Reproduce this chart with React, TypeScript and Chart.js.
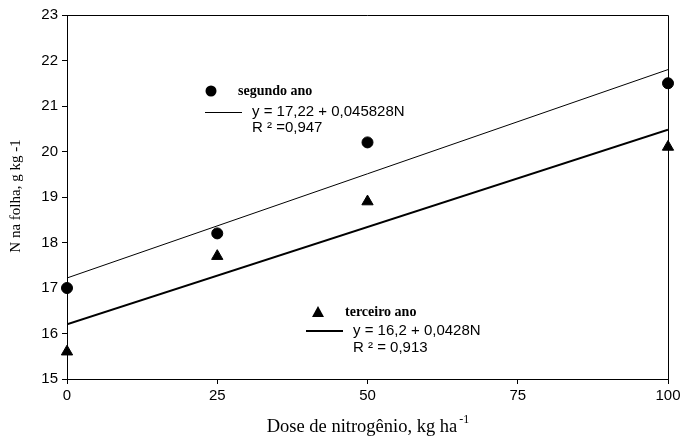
import React, { useEffect, useRef } from "react";
import { Chart, registerables } from "chart.js";

Chart.register(...registerables);

const doses = [0, 25, 50, 100];
const segundoAno = [17.0, 18.2, 20.2, 21.5];
const terceiroAno = [15.6, 17.7, 18.9, 20.1];
const lineX = [0, 100];
const segundoFit = [17.22, 21.80];
const terceiroFit = [16.2, 20.48];
const xTicks = [0, 25, 50, 75, 100];
const yTicks = [15, 16, 17, 18, 19, 20, 21, 22, 23];

const serif = "'Liberation Serif', 'Times New Roman', serif";
const sans = "'Liberation Sans', Arial, sans-serif";

const textPlugin = {
  id: "customText",
  afterDraw(chart: any) {
    const ctx = chart.ctx;
    const a = chart.chartArea;
    ctx.save();
    ctx.strokeStyle = "#000";
    ctx.lineWidth = 1;
    ctx.beginPath();
    ctx.moveTo(a.left, Math.round(a.top) + 0.5);
    ctx.lineTo(Math.round(a.right) + 0.5, Math.round(a.top) + 0.5);
    ctx.lineTo(Math.round(a.right) + 0.5, a.bottom);
    ctx.stroke();

    ctx.fillStyle = "#000";
    // legend 1
    ctx.beginPath();
    ctx.arc(211, 91, 5.5, 0, Math.PI * 2);
    ctx.fill();
    ctx.font = `bold 14px ${serif}`;
    ctx.textBaseline = "middle";
    ctx.textAlign = "left";
    ctx.fillText("segundo ano", 238, 91);
    ctx.lineWidth = 1;
    ctx.beginPath();
    ctx.moveTo(205, 112.5);
    ctx.lineTo(242, 112.5);
    ctx.stroke();
    ctx.font = `15px ${sans}`;
    ctx.fillText("y = 17,22 + 0,045828N", 252, 112);
    ctx.fillText("R ² =0,947", 252, 128);

    // legend 2
    ctx.beginPath();
    ctx.moveTo(318, 306);
    ctx.lineTo(324, 317);
    ctx.lineTo(312, 317);
    ctx.closePath();
    ctx.fill();
    ctx.font = `bold 14px ${serif}`;
    ctx.fillText("terceiro ano", 345, 312);
    ctx.lineWidth = 2;
    ctx.beginPath();
    ctx.moveTo(306, 331);
    ctx.lineTo(343, 331);
    ctx.stroke();
    ctx.font = `15px ${sans}`;
    ctx.fillText("y = 16,2 + 0,0428N", 353, 331);
    ctx.fillText("R ² = 0,913", 353, 348);

    // axis titles
    ctx.font = `15px ${serif}`;
    ctx.textAlign = "center";
    ctx.save();
    ctx.translate(16, 196);
    ctx.rotate(-Math.PI / 2);
    ctx.fillText("N na folha, g kg -1", 0, 0);
    ctx.restore();

    const main = "Dose de nitrogênio, kg ha";
    ctx.font = `18.5px ${serif}`;
    const w = ctx.measureText(main).width;
    ctx.font = `12px ${serif}`;
    const sw = ctx.measureText("-1").width;
    const startX = 368 - (w + sw + 2) / 2;
    ctx.textAlign = "left";
    ctx.textBaseline = "alphabetic";
    ctx.font = `18.5px ${serif}`;
    ctx.fillText(main, startX, 432);
    ctx.font = `12px ${serif}`;
    ctx.fillText("-1", startX + w + 2, 423);
    ctx.restore();
  },
};

export default function App() {
  const ref = useRef<HTMLCanvasElement>(null);
  useEffect(() => {
    document.body.style.margin = "0";
    const chart = new Chart(ref.current!, {
      type: "scatter",
      data: {
        datasets: [
          {
            label: "segundo ano",
            data: doses.map((x, i) => ({ x, y: segundoAno[i] })),
            pointStyle: "circle",
            pointRadius: 5.5,
            backgroundColor: "#000",
            borderColor: "#000",
            clip: false,
          } as any,
          {
            label: "terceiro ano",
            data: doses.map((x, i) => ({ x, y: terceiroAno[i] })),
            pointStyle: "triangle",
            pointRadius: 6.5,
            backgroundColor: "#000",
            borderColor: "#000",
            clip: false,
          } as any,
          {
            type: "line",
            label: "fit2",
            data: lineX.map((x, i) => ({ x, y: segundoFit[i] })),
            borderColor: "#000",
            borderWidth: 1,
            pointRadius: 0,
            showLine: true,
          } as any,
          {
            type: "line",
            label: "fit3",
            data: lineX.map((x, i) => ({ x, y: terceiroFit[i] })),
            borderColor: "#000",
            borderWidth: 2,
            pointRadius: 0,
            showLine: true,
          } as any,
        ],
      },
      options: {
        animation: false,
        responsive: false,
        maintainAspectRatio: false,
        layout: { padding: { top: 15, right: 14, left: 0, bottom: 0 } },
        plugins: { legend: { display: false }, tooltip: { enabled: false } },
        scales: {
          x: {
            type: "linear",
            min: 0,
            max: 100,
            afterBuildTicks: (s: any) => {
              s.ticks = xTicks.map((v) => ({ value: v }));
            },
            afterFit: (s: any) => {
              s.height = 65;
              s.paddingLeft = 0;
              s.paddingRight = 0;
            },
            grid: { drawOnChartArea: false, tickLength: 5, color: "#000" },
            border: { color: "#000", width: 1 },
            ticks: {
              color: "#000",
              font: { family: sans, size: 15 },
              padding: 3,
              maxRotation: 0,
            },
          },
          y: {
            type: "linear",
            min: 15,
            max: 23,
            afterBuildTicks: (s: any) => {
              s.ticks = yTicks.map((v) => ({ value: v }));
            },
            afterFit: (s: any) => {
              s.width = 67;
              s.paddingTop = 0;
              s.paddingBottom = 0;
            },
            grid: { drawOnChartArea: false, tickLength: 5, color: "#000" },
            border: { color: "#000", width: 1 },
            ticks: {
              color: "#000",
              font: { family: sans, size: 15 },
              padding: 4,
            },
          },
        },
      },
      plugins: [textPlugin],
    } as any);
    return () => chart.destroy();
  }, []);
  return (
    <div style={{ width: 682, height: 444 }}>
      <canvas ref={ref} width={682} height={444} style={{ width: 682, height: 444 }} />
    </div>
  );
}
